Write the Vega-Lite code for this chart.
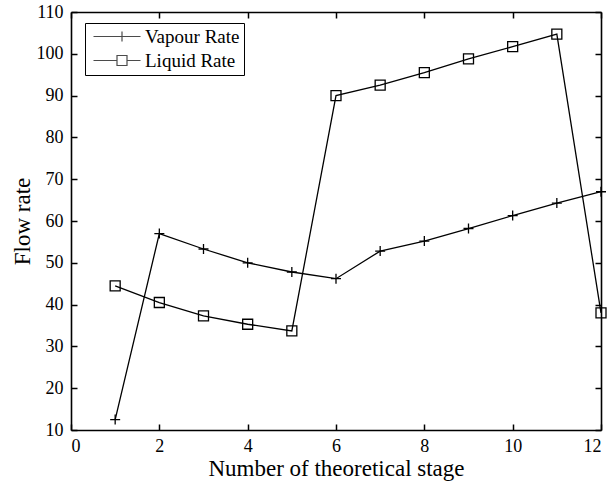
{
  "$schema": "https://vega.github.io/schema/vega-lite/v6.json",
  "width": 530,
  "height": 418,
  "autosize": {"type": "none"},
  "padding": {"left": 71, "top": 12, "right": 15, "bottom": 56},
  "background": "white",
  "config": {
    "view": {"stroke": null},
    "font": "Liberation Serif",
    "axis": {
      "labelFont": "Liberation Serif",
      "labelFontSize": 18,
      "labelColor": "black",
      "titleFont": "Liberation Serif",
      "titleFontSize": 23,
      "titleFontWeight": "normal",
      "titleColor": "black",
      "domainColor": "black",
      "domainWidth": 1.6,
      "tickColor": "black",
      "tickWidth": 1.5,
      "tickSize": -6,
      "grid": false
    }
  },
  "data": {
    "values": [
      {"stage": 1, "value": 12.5, "series": "Vapour Rate"},
      {"stage": 2, "value": 57.0, "series": "Vapour Rate"},
      {"stage": 3, "value": 53.3, "series": "Vapour Rate"},
      {"stage": 4, "value": 50.0, "series": "Vapour Rate"},
      {"stage": 5, "value": 47.8, "series": "Vapour Rate"},
      {"stage": 6, "value": 46.2, "series": "Vapour Rate"},
      {"stage": 7, "value": 52.8, "series": "Vapour Rate"},
      {"stage": 8, "value": 55.2, "series": "Vapour Rate"},
      {"stage": 9, "value": 58.2, "series": "Vapour Rate"},
      {"stage": 10, "value": 61.3, "series": "Vapour Rate"},
      {"stage": 11, "value": 64.3, "series": "Vapour Rate"},
      {"stage": 12, "value": 67.0, "series": "Vapour Rate"},
      {"stage": 1, "value": 44.5, "series": "Liquid Rate"},
      {"stage": 2, "value": 40.5, "series": "Liquid Rate"},
      {"stage": 3, "value": 37.3, "series": "Liquid Rate"},
      {"stage": 4, "value": 35.3, "series": "Liquid Rate"},
      {"stage": 5, "value": 33.7, "series": "Liquid Rate"},
      {"stage": 6, "value": 90.0, "series": "Liquid Rate"},
      {"stage": 7, "value": 92.5, "series": "Liquid Rate"},
      {"stage": 8, "value": 95.5, "series": "Liquid Rate"},
      {"stage": 9, "value": 98.8, "series": "Liquid Rate"},
      {"stage": 10, "value": 101.7, "series": "Liquid Rate"},
      {"stage": 11, "value": 104.7, "series": "Liquid Rate"},
      {"stage": 12, "value": 38.0, "series": "Liquid Rate"}
    ]
  },
  "layer": [
    {
      "mark": {"type": "line", "color": "black", "strokeWidth": 1.3},
      "encoding": {
        "x": {"field": "stage", "type": "quantitative", "scale": {"domain": [0, 12], "nice": false},
              "axis": {"orient": "bottom", "title": "Number of theoretical stage", "values": [0, 2, 4, 6, 8, 10, 12], "labelPadding": 13, "titlePadding": 2}},
        "y": {"field": "value", "type": "quantitative", "scale": {"domain": [10, 110], "nice": false, "zero": false},
              "axis": {"orient": "left", "title": "Flow rate", "values": [10, 20, 30, 40, 50, 60, 70, 80, 90, 100, 110], "labelPadding": 14, "titlePadding": 2}},
        "detail": {"field": "series"}
      }
    },
    {
      "mark": {"type": "point", "filled": false, "stroke": "black", "strokeWidth": 1.3, "size": 100, "opacity": 1},
      "encoding": {
        "x": {"field": "stage", "type": "quantitative", "scale": {"domain": [0, 12], "nice": false},
              "axis": {"orient": "top", "title": null, "labels": false, "values": [0, 2, 4, 6, 8, 10, 12]}},
        "y": {"field": "value", "type": "quantitative", "scale": {"domain": [10, 110], "nice": false, "zero": false},
              "axis": {"orient": "right", "title": null, "labels": false, "values": [10, 20, 30, 40, 50, 60, 70, 80, 90, 100, 110]}},
        "shape": {
          "field": "series", "type": "nominal",
          "scale": {"domain": ["Vapour Rate", "Liquid Rate"], "range": ["M-1,0H1M0,-1V1", "M-1,-1H1V1H-1Z"]},
          "legend": null
        }
      }
    },
    {
      "transform": [{"filter": "datum.stage > 100"}],
      "mark": {"type": "point", "filled": false, "stroke": "black", "strokeWidth": 1.2, "size": 100},
      "encoding": {
        "x": {"field": "stage", "type": "quantitative", "scale": {"domain": [0, 12], "nice": false}, "axis": null},
        "y": {"field": "value", "type": "quantitative", "scale": {"domain": [10, 110], "nice": false, "zero": false}, "axis": null},
        "shape": {
          "field": "series", "type": "nominal",
          "scale": {"domain": ["Vapour Rate", "Liquid Rate"], "range": ["M-1,0H8.4M4.7,-1V1", "M-1,0H3.7M5.7,0H8.4M3.7,-1H5.7V1H3.7Z"]},
          "legend": {
            "title": null,
            "orient": "none",
            "legendX": 14,
            "legendY": 11,
            "fillColor": "white",
            "strokeColor": "black",
            "padding": 4,
            "labelFont": "Liberation Serif",
            "labelFontSize": 19,
            "labelColor": "black",
            "labelOffset": 37,
            "symbolSize": 100,
            "symbolStrokeWidth": 1.2,
            "symbolStrokeColor": "black",
            "rowPadding": 4
          }
        }
      }
    }
  ],
  "resolve": {"axis": {"x": "independent", "y": "independent"}, "scale": {"shape": "independent"}}
}
